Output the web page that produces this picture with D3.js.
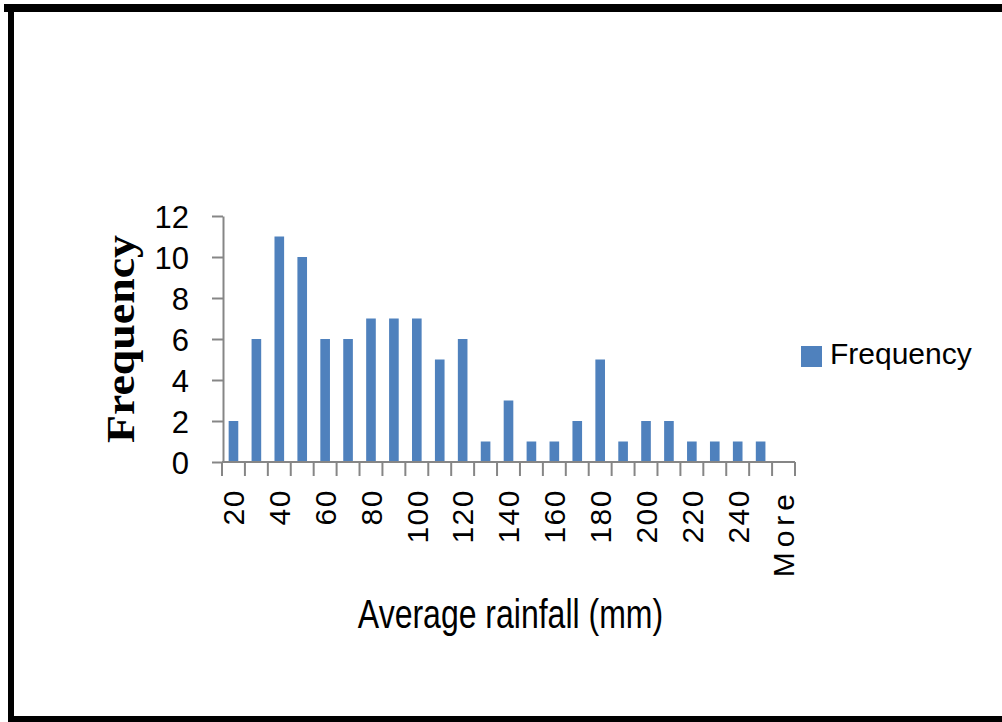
<!DOCTYPE html>
<html>
<head>
<meta charset="utf-8">
<script src="https://cdn.jsdelivr.net/npm/d3@7"></script>
<style>
  html, body { margin: 0; padding: 0; background: #fff; }
  svg { display: block; }
</style>
</head>
<body>
<svg id="chart" width="1002" height="722"></svg>
<script>
// ---- data ----
const categories = ["20","30","40","50","60","70","80","90","100","110","120","130","140","150","160","170","180","190","200","210","220","230","240","250","More"];
const frequency = [2,6,11,10,6,6,7,7,7,5,6,1,3,1,1,2,5,1,2,2,1,1,1,1,0];
const shownLabels = ["20","40","60","80","100","120","140","160","180","200","220","240","More"];
const yTicks = [0,2,4,6,8,10,12];
const seriesName = "Frequency";
const xTitle = "Average rainfall (mm)";
const yTitle = "Frequency";

// ---- layout ----
const svg = d3.select("#chart");
const barColor = "#4F81BD";
const axisColor = "#868686";
const sans = "'Liberation Sans', Arial, sans-serif";

// frame
svg.append("rect").attr("x", 0).attr("y", 0).attr("width", 1002).attr("height", 722).attr("fill", "#fff");
svg.append("rect").attr("x", 4).attr("y", 4).attr("width", 998).attr("height", 8).attr("fill", "#000");
svg.append("rect").attr("x", 8).attr("y", 4).attr("width", 6).attr("height", 718).attr("fill", "#000");
svg.append("rect").attr("x", 8).attr("y", 716).attr("width", 994).attr("height", 6).attr("fill", "#000");

const x = d3.scaleBand().domain(categories).range([222, 795]).paddingInner(0.58).paddingOuter(0.29);
const y = d3.scaleLinear().domain([0, 12]).range([462, 216]);

// bars
svg.append("g").selectAll("rect").data(categories).join("rect")
  .attr("x", d => x(d))
  .attr("width", x.bandwidth())
  .attr("y", (d, i) => y(frequency[i]))
  .attr("height", (d, i) => y(0) - y(frequency[i]))
  .attr("fill", barColor);

// y axis
const yAxis = svg.append("g").attr("transform", "translate(223,0)")
  .call(d3.axisLeft(y).tickValues(yTicks).tickSize(11).tickSizeOuter(0).tickFormat(d3.format("d")));
yAxis.select(".domain").attr("stroke", axisColor).attr("stroke-width", 2);
yAxis.selectAll(".tick line").attr("stroke", axisColor).attr("stroke-width", 2);
yAxis.selectAll(".tick text")
  .attr("x", -34).attr("dy", "0.36em")
  .attr("font-family", sans).attr("font-size", 31).attr("fill", "#000");

// x axis (ticks at category boundaries)
const step = x.step();
const x0 = 222;
const boundaries = d3.range(categories.length + 1).map(i => x0 + i * step);
const xg = svg.append("g");
xg.append("line").attr("x1", 222).attr("x2", 795).attr("y1", 462).attr("y2", 462)
  .attr("stroke", axisColor).attr("stroke-width", 2);
xg.selectAll("line.tk").data(boundaries).join("line").attr("class", "tk")
  .attr("x1", d => d).attr("x2", d => d).attr("y1", 462).attr("y2", 476)
  .attr("stroke", axisColor).attr("stroke-width", 2);
xg.selectAll("text").data(shownLabels).join("text")
  .attr("transform", d => `translate(${x(d) + x.bandwidth() / 2},489) rotate(-90)`)
  .attr("text-anchor", "end").attr("dy", "0.36em")
  .attr("font-family", sans).attr("font-size", 30)
  .attr("letter-spacing", d => isNaN(+d) ? 5 : 1.5)
  .attr("fill", "#000").text(d => d);

// axis titles
svg.append("text")
  .attr("transform", "translate(510.5,627.5) scale(1,1.25)")
  .attr("text-anchor", "middle")
  .attr("font-family", sans).attr("font-size", 32).attr("fill", "#000")
  .text(xTitle);

svg.append("text")
  .attr("transform", "translate(134,339) rotate(-90)")
  .attr("text-anchor", "middle")
  .attr("font-family", "'Liberation Serif', 'Times New Roman', serif")
  .attr("font-weight", "bold").attr("font-size", 39).attr("fill", "#000")
  .attr("textLength", 208).attr("lengthAdjust", "spacingAndGlyphs")
  .text(yTitle);

// legend
svg.append("rect").attr("x", 801).attr("y", 346).attr("width", 21).attr("height", 21).attr("fill", barColor);
svg.append("text").attr("x", 830).attr("y", 363.5)
  .attr("font-family", sans).attr("font-size", 30).attr("fill", "#000")
  .text(seriesName);
</script>
</body>
</html>
